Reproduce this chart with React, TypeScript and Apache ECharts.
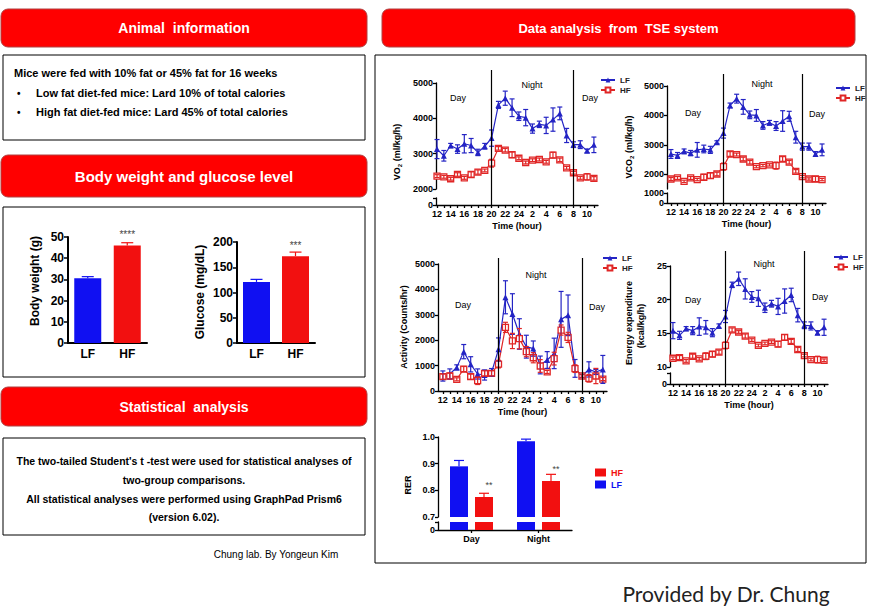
import React, { useEffect, useRef } from "react";
import * as echarts from "echarts";

// ---------------- data ----------------
const HOURS = ["12","13","14","15","16","17","18","19","20","21","22","23","24","1","2","3","4","5","6","7","8","9","10","11"];
const HOUR_LABEL_IDX = [0, 2, 4, 6, 8, 10, 12, 14, 16, 18, 20, 22];
const NIGHT_START = "20";
const NIGHT_END = "8";

const VO2_LF = [3130,2940,3230,3130,3280,3230,3035,3210,3440,4380,4570,4300,4060,4020,3710,3830,3800,3965,4140,3515,3255,3255,3080,3250];
const VO2_LF_ERR = [270,150,60,120,260,200,90,80,230,100,200,250,120,230,130,90,230,330,180,200,80,110,50,220];
const VO2_HF = [2365,2345,2290,2410,2315,2410,2480,2525,2730,3150,3100,2970,2870,2750,2815,2835,2770,2960,2825,2600,2460,2315,2345,2300];
const VO2_HF_ERR = [40,40,40,50,40,80,60,40,110,50,50,80,40,40,40,40,40,80,50,40,40,40,90,50];

const VCO2_LF = [2690,2640,2780,2720,2830,2860,2830,3090,3400,4340,4570,4290,4020,4000,3660,3750,3640,3810,3970,3260,2940,2940,2690,2830];
const VCO2_LF_ERR = [150,100,80,90,250,130,120,50,170,80,150,250,130,200,130,80,150,350,170,200,120,120,80,200];
const VCO2_HF = [1840,1875,1760,1875,1820,1900,1955,2010,2260,2690,2670,2520,2410,2260,2295,2320,2295,2520,2410,2100,1920,1840,1840,1820];
const VCO2_HF_ERR = [50,50,40,50,40,100,90,60,120,80,50,60,60,40,40,40,120,80,60,60,40,40,90,40];

const ACT_LF = [590,670,930,1550,1050,670,630,735,1640,3690,3030,2245,1745,1670,1025,1220,1480,2820,2980,890,590,850,750,850];
const ACT_LF_ERR = [200,200,100,280,300,200,200,150,450,650,800,600,450,300,350,330,600,1100,800,350,60,300,100,550];
const ACT_HF = [565,590,460,865,565,405,695,695,1060,2505,1970,2060,1550,1310,985,750,1275,2400,2110,880,590,500,590,470];
const ACT_HF_ERR = [100,120,60,100,100,150,100,100,150,200,300,400,200,200,250,60,250,200,200,150,50,150,300,60];

const EE_LF = [15.4,14.7,15.7,15.4,16.0,15.9,15.1,16.1,17.5,22.2,23.1,21.6,20.4,20.2,18.8,19.4,19.0,19.8,20.7,17.7,16.2,16.1,15.1,15.9];
const EE_LF_ERR = [1.2,0.6,0.3,0.6,1.3,1.0,0.6,0.3,0.9,0.4,1.0,1.5,0.8,1.2,0.7,0.5,1.2,1.8,1.0,1.0,0.5,0.6,0.3,1.2];
const EE_HF = [11.3,11.4,10.9,11.6,11.2,11.6,11.9,12.2,13.2,15.5,15.2,14.6,14.0,13.2,13.5,13.7,13.4,14.4,13.8,12.6,11.7,11.1,11.1,11.0];
const EE_HF_ERR = [0.2,0.3,0.2,0.3,0.2,0.5,0.4,0.3,0.5,0.3,0.2,0.3,0.2,0.2,0.2,0.2,0.4,0.4,0.3,0.3,0.2,0.2,0.5,0.2];

const GROUPS = ["LF", "HF"];
const BW_VALUES = [30.5, 46];
const BW_ERR = [0.8, 1.3];
const BW_STARS = ["", "****"];
const GLU_VALUES = [121, 172];
const GLU_ERR = [5, 8];
const GLU_STARS = ["", "***"];

const RER_CATS = ["Day", "Night"];
const RER_LF = [0.89, 0.984];
const RER_LF_ERR = [0.022, 0.008];
const RER_HF = [0.775, 0.835];
const RER_HF_ERR = [0.014, 0.025];
const RER_STARS = ["**", "**"];

// ---------------- style ----------------
const FONT = "'Liberation Sans', Arial, sans-serif";
const LINE_BLUE = "#2424c4";
const LINE_RED = "#e02626";
const BAR_BLUE = "#1010f2";
const BAR_RED = "#f21010";
const HEAD_RED = "#ff0000";

function errBars(xi: number, vals: number[], errs: number[], color: string | string[], capHalf: number, upOnly: boolean, offset = 0, z = 4): any {
  return {
    type: "custom",
    xAxisIndex: xi,
    yAxisIndex: xi,
    silent: true,
    z,
    clip: false,
    encode: { x: 0, y: 1 },
    data: vals.map((v, i) => [i, v, errs[i]]),
    renderItem: (params: any, api: any) => {
      const x = api.value(0);
      const v = api.value(1);
      const e = api.value(2);
      const p1 = api.coord([x, v + e]);
      const p0 = api.coord([x, upOnly ? v : v - e]);
      const cx = p1[0] + offset;
      const col = Array.isArray(color) ? color[params.dataIndex] : color;
      const st = { stroke: col, lineWidth: 1.2 };
      const children: any[] = [
        { type: "line", shape: { x1: cx, y1: p0[1], x2: cx, y2: p1[1] }, style: st },
        { type: "line", shape: { x1: cx - capHalf, y1: p1[1], x2: cx + capHalf, y2: p1[1] }, style: st },
      ];
      if (!upOnly) children.push({ type: "line", shape: { x1: cx - capHalf, y1: p0[1], x2: cx + capHalf, y2: p0[1] }, style: st });
      return { type: "group", children };
    },
  };
}

type Seg = { top: number; height: number; min: number; max: number; labels: number[]; ticks: number[] };
type TimeCfg = {
  left: number; width: number; xMin: number; xMax: number; lineTop: number; segs: Seg[];
  lf: number[]; lfErr: number[]; hf: number[]; hfErr: number[];
  legendLeft: number; legendTop: number;
};

const AX_LS = { color: "#000", width: 1.3 };
const TICK_FONT = { color: "#000", fontSize: 9, fontWeight: "bold" as const, fontFamily: FONT };

function addTime(o: any, c: TimeCfg) {
  const segIdx: number[] = [];
  c.segs.forEach((s, k) => {
    const last = k === c.segs.length - 1;
    const gi = o.grid.length;
    o.grid.push({ left: c.left, top: s.top, width: c.width, height: s.height });
    o.xAxis.push({
      gridIndex: gi, type: "value", min: c.xMin, max: c.xMax, show: last,
      axisLine: { onZero: false, lineStyle: AX_LS },
      axisTick: { show: true, customValues: HOURS.map((_, i) => i), length: 3, lineStyle: AX_LS },
      axisLabel: { customValues: HOUR_LABEL_IDX, formatter: (v: number) => HOURS[Math.round(v)] ?? "", margin: 4, ...TICK_FONT },
      splitLine: { show: false },
      name: last ? "Time (hour)" : "",
      nameLocation: "middle", nameGap: 16,
      nameTextStyle: { ...TICK_FONT },
    });
    o.yAxis.push({
      gridIndex: gi, type: "value", min: s.min, max: s.max,
      axisLine: { show: true, onZero: false, lineStyle: AX_LS },
      axisTick: { show: true, customValues: s.ticks, length: 3, lineStyle: AX_LS },
      axisLabel: { customValues: s.labels, formatter: (v: number) => String(v), margin: 3, ...TICK_FONT },
      splitLine: { show: false },
    });
    segIdx.push(gi);
  });
  // overlay for day / night separators
  const lastSeg = c.segs[c.segs.length - 1];
  const bottom = lastSeg.top + lastSeg.height;
  const oi = o.grid.length;
  o.grid.push({ left: c.left, top: c.lineTop, width: c.width, height: bottom - c.lineTop });
  o.xAxis.push({ gridIndex: oi, type: "value", min: c.xMin, max: c.xMax, show: false });
  o.yAxis.push({ gridIndex: oi, type: "value", min: 0, max: 1, show: false });
  o.series.push({
    type: "line", xAxisIndex: oi, yAxisIndex: oi, data: [], silent: true,
    markLine: {
      silent: true, symbol: ["none", "none"], label: { show: false },
      lineStyle: { color: "#000", width: 1.2, type: "solid" },
      data: [{ xAxis: HOURS.indexOf(NIGHT_START) }, { xAxis: HOURS.indexOf(NIGHT_END) }],
    },
  });
  const ti = segIdx[0];
  o.series.push({
    type: "line", name: "LF", xAxisIndex: ti, yAxisIndex: ti, silent: true, z: 3,
    data: c.lf.map((v, i) => [i, v]), symbol: "triangle", symbolSize: 6,
    lineStyle: { color: LINE_BLUE, width: 1.2 }, itemStyle: { color: LINE_BLUE },
  });
  o.series.push({
    type: "line", name: "HF", xAxisIndex: ti, yAxisIndex: ti, silent: true, z: 3,
    data: c.hf.map((v, i) => [i, v]), symbol: "rect", symbolSize: 6,
    lineStyle: { color: LINE_RED, width: 1.2 }, itemStyle: { color: "#fff", borderColor: LINE_RED, borderWidth: 1.3 },
  });
  o.series.push(errBars(ti, c.lf, c.lfErr, LINE_BLUE, 2.5, false, 0, 4));
  o.series.push(errBars(ti, c.hf, c.hfErr, LINE_RED, 2.5, false, 0, 4));
  o.legend.push({
    left: c.legendLeft, top: c.legendTop, orient: "vertical", itemWidth: 14, itemHeight: 6, itemGap: 2,
    selectedMode: false, data: ["LF", "HF"],
    textStyle: { fontSize: 8, fontWeight: "bold", color: "#222", fontFamily: FONT },
  });
}

function addBarChart(o: any, left: number, top: number, width: number, height: number, max: number, interval: number, vals: number[], errs: number[], stars: string[]) {
  const gi = o.grid.length;
  const LS = { color: "#000", width: 2 };
  const F = { color: "#000", fontSize: 12, fontWeight: "bold" as const, fontFamily: FONT };
  o.grid.push({ left, top, width, height });
  o.xAxis.push({ gridIndex: gi, type: "category", data: GROUPS, axisLine: { lineStyle: LS }, axisTick: { show: false }, axisLabel: { ...F, margin: 5 } });
  o.yAxis.push({ gridIndex: gi, type: "value", min: 0, max, interval, axisLine: { show: true, lineStyle: LS }, axisTick: { show: true, length: 4, lineStyle: { color: "#000", width: 1.5 } }, axisLabel: { ...F, margin: 4, formatter: (v: number) => String(v) }, splitLine: { show: false } });
  const cols = [BAR_BLUE, BAR_RED];
  o.series.push({
    type: "bar", xAxisIndex: gi, yAxisIndex: gi, barWidth: 27, silent: true,
    data: vals.map((v, i) => ({
      value: v, itemStyle: { color: cols[i] },
      label: { show: !!stars[i], position: "top", distance: 6, formatter: stars[i] || "", fontSize: 10, color: "#444", fontFamily: FONT },
    })),
  });
  o.series.push(errBars(gi, vals, errs, cols, 6, true, 0, 4));
}

function addRer(o: any) {
  const segs = [
    { top: 437, height: 80, min: 0.7, max: 1.0, labels: [0.7, 0.8, 0.9, 1.0], ticks: [0.7, 0.8, 0.9, 1.0], show: false },
    { top: 522, height: 8, min: 0, max: 0.1, labels: [0], ticks: [0, 0.1], show: true },
  ];
  const F = { color: "#000", fontSize: 9, fontWeight: "bold" as const, fontFamily: FONT };
  const LS = { color: "#000", width: 1.3 };
  const BW = 18;
  const GAP = 7;
  segs.forEach((s, k) => {
    const gi = o.grid.length;
    o.grid.push({ left: 438, top: s.top, width: 134, height: s.height });
    o.xAxis.push({ gridIndex: gi, type: "category", data: RER_CATS, show: s.show, axisLine: { lineStyle: LS }, axisTick: { show: true, alignWithLabel: true, length: 3, lineStyle: LS }, axisLabel: { ...F, margin: 4 } });
    o.yAxis.push({
      gridIndex: gi, type: "value", min: s.min, max: s.max,
      axisLine: { show: true, lineStyle: LS },
      axisTick: { show: true, customValues: s.ticks, length: 3, lineStyle: LS },
      axisLabel: { customValues: s.labels, formatter: (v: number) => (v === 0 ? "0" : v.toFixed(1)), margin: 3, ...F },
      splitLine: { show: false },
    });
    o.series.push({ type: "bar", name: "RER LF", xAxisIndex: gi, yAxisIndex: gi, data: RER_LF, barWidth: BW, barGap: `${(GAP / BW) * 100}%`, clip: true, silent: true, itemStyle: { color: BAR_BLUE } });
    o.series.push({
      type: "bar", name: "RER HF", xAxisIndex: gi, yAxisIndex: gi, barWidth: BW, barGap: `${(GAP / BW) * 100}%`, clip: true, silent: true, itemStyle: { color: BAR_RED },
      data: RER_HF.map((v, i) => ({ value: v, label: { show: k === 0, position: "top", distance: 8, offset: [5, 0], formatter: RER_STARS[i], fontSize: 9, color: "#444" } })),
    });
    if (k === 0) {
      o.series.push(errBars(gi, RER_LF, RER_LF_ERR, BAR_BLUE, 5, true, -(BW + GAP) / 2, 4));
      o.series.push(errBars(gi, RER_HF, RER_HF_ERR, BAR_RED, 5, true, (BW + GAP) / 2, 4));
    }
  });
  o.legend.push({
    left: 590, top: 463, orient: "vertical", icon: "rect", itemWidth: 11, itemHeight: 8, itemGap: 3, selectedMode: false,
    data: [{ name: "RER HF", textStyle: { color: BAR_RED } }, { name: "RER LF", textStyle: { color: BAR_BLUE } }],
    formatter: (n: string) => n.replace("RER ", ""),
    textStyle: { fontSize: 9, fontWeight: "bold", fontFamily: FONT },
  });
}

function txt(x: number, y: number, text: string, size: number, opts: any = {}): any {
  return {
    type: "text", x, y, rotation: opts.rotation || 0, silent: true,
    style: {
      text, fontSize: size, fontWeight: opts.weight || "normal", fontFamily: opts.family || FONT,
      fill: opts.fill || "#000", align: opts.align || "center", verticalAlign: "middle", rich: opts.rich,
    },
  };
}

function header(x: number, y: number, w: number, h: number, text: string, size: number, family = FONT): any[] {
  return [
    { type: "rect", silent: true, shape: { x, y, width: w, height: h, r: 7 }, style: { fill: HEAD_RED, stroke: "#b04040", lineWidth: 1 } },
    txt(x + w / 2, y + h / 2, text, size, { weight: "bold", fill: "#fff", family }),
  ];
}

function box(x: number, y: number, w: number, h: number): any {
  return { type: "rect", silent: true, shape: { x, y, width: w, height: h }, style: { fill: "none", stroke: "#000", lineWidth: 1 } };
}

function buildOption() {
  const o: any = { animation: false, textStyle: { fontFamily: FONT }, grid: [], xAxis: [], yAxis: [], series: [], legend: [] };

  addBarChart(o, 68, 237, 79, 106, 50, 10, BW_VALUES, BW_ERR, BW_STARS);
  addBarChart(o, 237, 242, 78, 101, 200, 50, GLU_VALUES, GLU_ERR, GLU_STARS);

  addTime(o, {
    left: 436, width: 162, xMin: -0.15, xMax: 23.6, lineTop: 70,
    segs: [
      { top: 83, height: 106, min: 2000, max: 5000, labels: [2000, 3000, 4000, 5000], ticks: [2000, 3000, 4000, 5000] },
      { top: 198, height: 7, min: 0, max: 1, labels: [0], ticks: [0, 1] },
    ],
    lf: VO2_LF, lfErr: VO2_LF_ERR, hf: VO2_HF, hfErr: VO2_HF_ERR, legendLeft: 595, legendTop: 71,
  });
  addTime(o, {
    left: 667, width: 159, xMin: -0.6, xMax: 23.6, lineTop: 74,
    segs: [
      { top: 86, height: 103, min: 1500, max: 5000, labels: [2000, 3000, 4000, 5000], ticks: [2000, 3000, 4000, 5000] },
      { top: 193, height: 10, min: 0, max: 1000, labels: [0, 1000], ticks: [0, 1000] },
    ],
    lf: VCO2_LF, lfErr: VCO2_LF_ERR, hf: VCO2_HF, hfErr: VCO2_HF_ERR, legendLeft: 830, legendTop: 79,
  });
  addTime(o, {
    left: 438, width: 169, xMin: -0.7, xMax: 23.6, lineTop: 258,
    segs: [
      { top: 264, height: 127, min: 0, max: 5000, labels: [0, 1000, 2000, 3000, 4000, 5000], ticks: [0, 1000, 2000, 3000, 4000, 5000] },
    ],
    lf: ACT_LF, lfErr: ACT_LF_ERR, hf: ACT_HF, hfErr: ACT_HF_ERR, legendLeft: 597, legendTop: 249,
  });
  addTime(o, {
    left: 670, width: 158, xMin: -0.45, xMax: 23.6, lineTop: 251,
    segs: [
      { top: 266, height: 101, min: 10, max: 25, labels: [10, 15, 20, 25], ticks: [10, 15, 20, 25] },
      { top: 373, height: 11, min: 0, max: 1, labels: [0], ticks: [0, 1] },
    ],
    lf: EE_LF, lfErr: EE_LF_ERR, hf: EE_HF, hfErr: EE_HF_ERR, legendLeft: 828, legendTop: 248,
  });
  addRer(o);

  const subRich = {
    a: { fontSize: 9, fontWeight: "bold", fontFamily: FONT, fill: "#000" },
    s: { fontSize: 6, fontWeight: "bold", fontFamily: FONT, fill: "#000", padding: [5, 0, 0, 0] },
  };
  const R = Math.PI / 2;
  const els: any[] = [
    ...header(1, 9, 366, 38, "Animal  information", 14),
    box(3, 55, 362, 85),
    txt(14, 73, "Mice were fed with 10% fat or 45% fat for 16 weeks", 11, { weight: "bold", align: "left" }),
    txt(17, 93, "•", 10, { weight: "bold", align: "left" }),
    txt(36, 93, "Low fat diet-fed mice: Lard 10% of total calories", 11, { weight: "bold", align: "left" }),
    txt(17, 112, "•", 10, { weight: "bold", align: "left" }),
    txt(36, 112, "High fat diet-fed mice: Lard 45% of total calories", 11, { weight: "bold", align: "left" }),

    ...header(1, 155, 366, 42, "Body weight and glucose level", 15),
    box(3, 207, 362, 170),
    txt(35, 281, "Body weight (g)", 12, { weight: "bold", rotation: R }),
    txt(200, 292, "Glucose (mg/dL)", 12, { weight: "bold", rotation: R }),

    ...header(1, 387, 366, 39, "Statistical  analysis", 14),
    box(3, 438, 362, 97),
    txt(184, 461, "The two-tailed Student's t -test were used for statistical analyses of", 10.5, { weight: "bold" }),
    txt(184, 480, "two-group comparisons.", 10.5, { weight: "bold" }),
    txt(184, 499, "All statistical analyses were performed using GraphPad Prism6", 10.5, { weight: "bold" }),
    txt(184, 517, "(version 6.02).", 10.5, { weight: "bold" }),
    txt(276, 554, "Chung lab. By Yongeun Kim", 10),

    ...header(382, 9, 473, 38, "Data analysis  from  TSE system", 13),
    box(375, 55, 491, 508),

    // day / night labels
    txt(458, 98, "Day", 9), txt(532, 85, "Night", 9), txt(590, 98, "Day", 9),
    txt(693, 113, "Day", 9), txt(762, 84, "Night", 9), txt(817, 114, "Day", 9),
    txt(463, 305, "Day", 9), txt(536, 275, "Night", 9), txt(597, 307, "Day", 9),
    txt(693, 300, "Day", 9), txt(764, 264, "Night", 9), txt(820, 297, "Day", 9),

    // axis titles
    txt(397, 152, "{a|VO}{s|2}{a| (ml/kg/h)}", 9, { weight: "bold", rotation: R, rich: subRich }),
    txt(629, 147, "{a|VCO}{s|2}{a| (ml/kg/h)}", 9, { weight: "bold", rotation: R, rich: subRich }),
    txt(404, 327, "Activity (Counts/hr)", 9, { weight: "bold", rotation: R }),
    txt(629, 323, "Energy expenditure", 9, { weight: "bold", rotation: R }),
    txt(641, 326, "(kcal/kg/h)", 9, { weight: "bold", rotation: R }),
    txt(408, 485, "RER", 9, { weight: "bold", rotation: R }),

    txt(726, 593, "Provided by Dr. Chung", 21, { family: "Lato, 'Open Sans', sans-serif", fill: "#222" }),
  ];
  o.graphic = { elements: els };
  return o;
}

export default function App() {
  const ref = useRef<HTMLDivElement>(null);
  useEffect(() => {
    const chart = echarts.init(ref.current!, null, { renderer: "svg" });
    chart.setOption(buildOption());
    return () => chart.dispose();
  }, []);
  return <div ref={ref} style={{ position: "fixed", left: 0, top: 0, width: 882, height: 615, background: "#fff" }} />;
}
